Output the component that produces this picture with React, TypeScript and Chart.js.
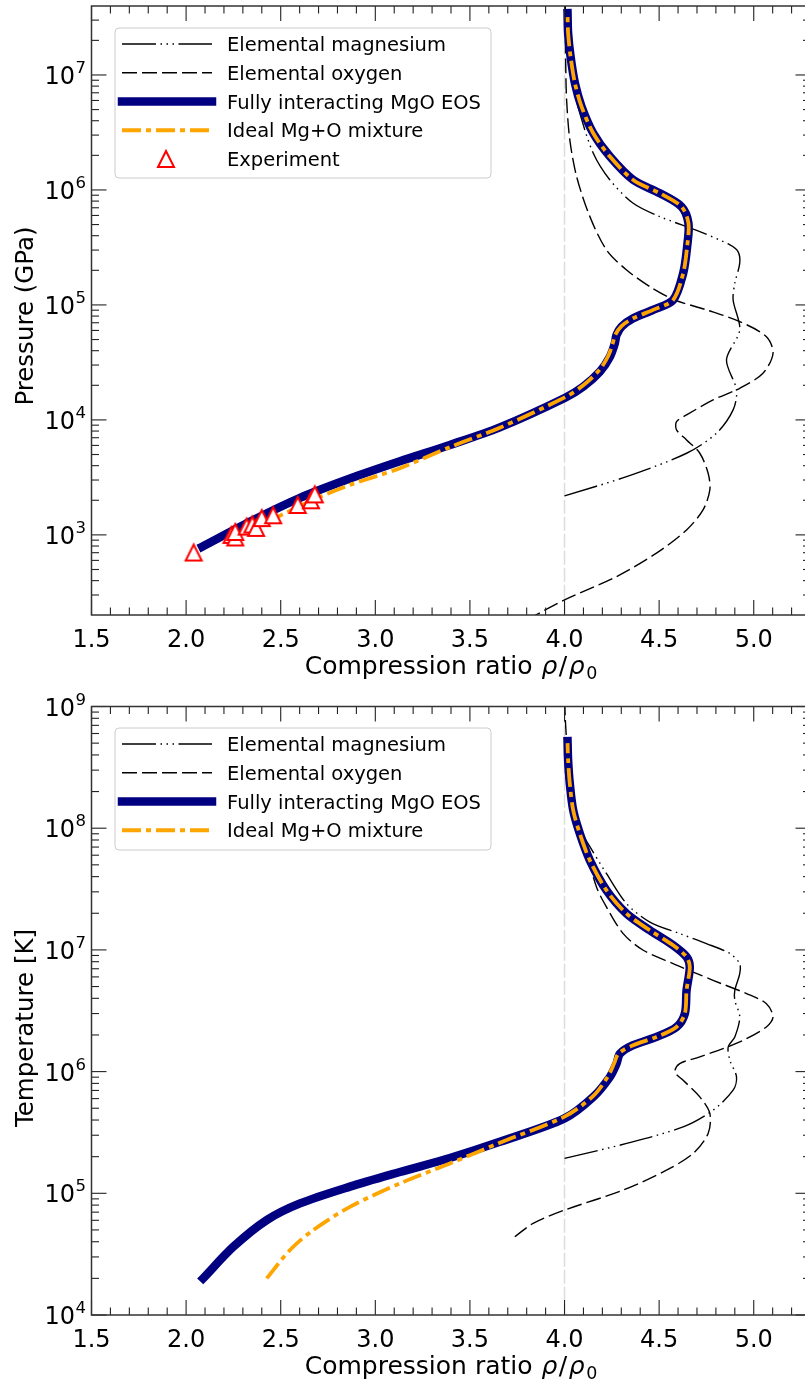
import React, { useEffect, useRef } from 'react';
import { Chart, registerables } from 'chart.js';

Chart.register(...registerables);

// ---------------- Axis ticks ----------------
const xTickVals = [1.5, 2.0, 2.5, 3.0, 3.5, 4.0, 4.5, 5.0];
const xTickLabels = ['1.5', '2.0', '2.5', '3.0', '3.5', '4.0', '4.5', '5.0'];
const yExpTop = [3, 4, 5, 6, 7];
const yExpBottom = [4, 5, 6, 7, 8, 9];

const xTitleMain = 'Compression ratio ';
const yTitleTop = 'Pressure (GPa)';
const yTitleBottom = 'Temperature [K]';

const seriesNames = [
  'Elemental magnesium',
  'Elemental oxygen',
  'Fully interacting MgO EOS',
  'Ideal Mg+O mixture',
  'Experiment',
];

// ---------------- Top panel: pressure (GPa) ----------------
const mgoRhoP = [2.085, 2.339, 2.602, 2.866, 3.13, 3.394, 3.658, 4.001, 4.099, 4.187, 4.24, 4.266, 4.275, 4.301, 4.363, 4.468, 4.574, 4.627, 4.648, 4.655, 4.618, 4.504, 4.363, 4.24, 4.152, 4.09, 4.055, 4.032, 4.019, 4.016];
const mgoP = [790, 1306, 2099, 3090, 4365, 6053, 8610, 15520, 19500, 26300, 35480, 46450, 54830, 64710, 76560, 90570, 110400, 188400, 321400, 512900, 716100, 935400, 1.222e6, 1.95e6, 3.112e6, 5.309e6, 8.472e6, 1.442e7, 2.301e7, 3.45e7];

const idealRhoP = [2.42, 2.505, 2.69, 2.866, 3.13, 3.394, 3.658, 4.001, 4.099, 4.187, 4.232, 4.255, 4.268, 4.301, 4.363, 4.468, 4.574, 4.627, 4.648, 4.655, 4.618, 4.504, 4.363, 4.24, 4.152, 4.09, 4.055, 4.032, 4.019, 4.016];
const idealP = [1290, 1493, 2084, 2723, 3802, 5800, 8550, 15700, 20000, 27500, 36300, 46450, 54830, 65500, 76560, 90570, 110400, 188400, 321400, 512900, 716100, 935400, 1.222e6, 1.95e6, 3.112e6, 5.309e6, 8.472e6, 1.442e7, 2.301e7, 3.3e7];

const mgRhoP = [4.0, 4.328, 4.645, 4.803, 4.891, 4.909, 4.856, 4.926, 4.891, 4.9, 4.926, 4.917, 4.874, 4.715, 4.504, 4.363, 4.24, 4.152, 4.081, 4.037, 4.019, 4.012];
const mgP = [2183, 3214, 5129, 7656, 12220, 18240, 33270, 60670, 110400, 154500, 230700, 291100, 332700, 434500, 586100, 765600, 1.222e6, 2.084e6, 4.645e6, 9.057e6, 1.442e7, 2.6e7];

const oRhoP = [3.8, 4.0, 4.275, 4.486, 4.645, 4.732, 4.768, 4.759, 4.715, 4.645, 4.592, 4.592, 4.645, 4.785, 4.926, 5.049, 5.102, 5.067, 4.926, 4.75, 4.583, 4.451, 4.328, 4.222, 4.134, 4.064, 4.028, 4.011, 4.006, 4.004];
const oP = [182, 272, 434, 693, 1104, 1648, 2460, 3436, 5129, 6699, 8185, 9661, 11040, 14930, 18840, 25470, 38020, 52970, 71620, 90570, 110400, 144200, 201400, 300600, 586100, 1.306e6, 2.723e6, 6.067e6, 1.349e7, 3.98e7];

const expRho = [2.04, 2.24, 2.26, 2.26, 2.32, 2.35, 2.37, 2.4, 2.46, 2.59, 2.66, 2.68];
const expP = [702, 1000, 950, 1060, 1180, 1230, 1150, 1400, 1480, 1820, 2000, 2250];

// ---------------- Bottom panel: temperature (K) ----------------
const mgoRhoT = [2.09, 2.25, 2.426, 2.602, 2.866, 3.13, 3.394, 3.658, 4.0, 4.152, 4.24, 4.275, 4.293, 4.363, 4.486, 4.592, 4.636, 4.645, 4.662, 4.645, 4.574, 4.451, 4.328, 4.222, 4.134, 4.081, 4.046, 4.028, 4.019, 4.016];
const mgoT = [20000, 36390, 60260, 82600, 113500, 149600, 195000, 264900, 412100, 619400, 905700, 1.164e6, 1.406e6, 1.648e6, 1.928e6, 2.328e6, 3.0e6, 4.656e6, 7.244e6, 8.75e6, 1.091e7, 1.449e7, 1.986e7, 3.083e7, 5.445e7, 9.016e7, 1.4e8, 2.317e8, 3.606e8, 5.2e8];

const idealRhoT = [2.426, 2.549, 2.672, 2.866, 3.13, 3.394, 3.658, 4.0, 4.152, 4.228, 4.262, 4.285, 4.363, 4.486, 4.592, 4.636, 4.645, 4.662, 4.645, 4.574, 4.451, 4.328, 4.222, 4.134, 4.081, 4.046, 4.028, 4.019, 4.016];
const idealT = [20000, 34200, 49890, 77450, 120500, 175800, 260000, 426600, 631000, 905700, 1.164e6, 1.406e6, 1.648e6, 1.928e6, 2.328e6, 3.0e6, 4.656e6, 7.244e6, 8.75e6, 1.091e7, 1.449e7, 1.986e7, 3.083e7, 5.445e7, 9.016e7, 1.4e8, 2.317e8, 3.606e8, 5.0e8];

const mgRhoT = [4.0, 4.328, 4.627, 4.785, 4.891, 4.909, 4.874, 4.865, 4.9, 4.926, 4.9, 4.9, 4.926, 4.926, 4.874, 4.75, 4.609, 4.451, 4.328, 4.222, 4.125, 4.081, 4.04, 4.02];
const mgT = [193600, 257000, 351600, 482000, 703100, 905700, 1.242e6, 1.596e6, 1.928e6, 2.812e6, 3.855e6, 4.656e6, 6.383e6, 7.709e6, 9.333e6, 1.127e7, 1.361e7, 1.694e7, 2.399e7, 4.227e7, 7.447e7, 1e8, 2e8, 4e8];

const oRhoT = [3.737, 3.834, 4.0, 4.31, 4.539, 4.68, 4.759, 4.768, 4.715, 4.627, 4.583, 4.609, 4.715, 4.926, 5.067, 5.102, 5.067, 4.962, 4.785, 4.68, 4.574, 4.416, 4.31, 4.222, 4.169, 4.099, 4.05, 4.02, 4.004, 4.0];
const oT = [43950, 56620, 72780, 106200, 154900, 212800, 310500, 452900, 619400, 849200, 995400, 1.164e6, 1.321e6, 1.754e6, 2.328e6, 2.812e6, 3.614e6, 4.375e6, 5.623e6, 6.577e6, 7.709e6, 9.931e6, 1.361e7, 2.249e7, 3.289e7, 7.943e7, 1.585e8, 3.548e8, 7.943e8, 1.585e9];

// reference line at rho/rho0 = 4
const limitRho = [4.0, 4.0];
const limitTopP = [100, 1e8];
const limitBottomT = [5e3, 2e9];

const FONT = '"DejaVu Sans", "Liberation Sans", sans-serif';

function pts(xs: number[], ys: number[]) {
  return xs.map((x, i) => ({ x, y: ys[i] }));
}

function makeTriangle() {
  const c = document.createElement('canvas');
  c.width = 22;
  c.height = 22;
  const g = c.getContext('2d')!;
  g.beginPath();
  g.moveTo(11, 3);
  g.lineTo(3, 19);
  g.lineTo(19, 19);
  g.closePath();
  g.fillStyle = '#ffffff';
  g.fill();
  g.lineWidth = 2;
  g.strokeStyle = '#ff0000';
  g.lineJoin = 'miter';
  g.stroke();
  return c;
}

function lineDatasets(mgX: number[], mgY: number[], oX: number[], oY: number[], mgoX: number[], mgoY: number[], idX: number[], idY: number[], limY: number[]) {
  return [
    {
      label: seriesNames[0], data: pts(mgX, mgY), showLine: true, borderColor: '#000000', borderWidth: 1.4,
      borderDash: [34, 4.5, 1.5, 4.5, 1.5, 4.5, 1.5, 4.5], tension: 0.3, pointRadius: 0, order: 4, borderCapStyle: 'butt',
    },
    {
      label: seriesNames[1], data: pts(oX, oY), showLine: true, borderColor: '#000000', borderWidth: 1.4,
      borderDash: [15, 5], tension: 0.3, pointRadius: 0, order: 3, borderCapStyle: 'butt',
    },
    {
      label: seriesNames[2], data: pts(mgoX, mgoY), showLine: true, borderColor: '#000080', borderWidth: 8.5,
      tension: 0.3, pointRadius: 0, order: 2, borderCapStyle: 'square', borderJoinStyle: 'round',
    },
    {
      label: seriesNames[3], data: pts(idX, idY), showLine: true, borderColor: '#ffa500', borderWidth: 3.8,
      borderDash: [19, 5, 5, 5], tension: 0.3, pointRadius: 0, order: 1, borderCapStyle: 'butt',
    },
    {
      label: '', data: pts(limitRho, limY), showLine: true, borderColor: '#dcdcdc', borderWidth: 1.5,
      borderDash: [14, 3], tension: 0, pointRadius: 0, order: 9, borderCapStyle: 'butt',
    },
  ];
}

const framePlugin = {
  id: 'frame',
  afterDatasetsDraw(chart: any, _args: any, opts: any) {
    const { ctx, chartArea: a } = chart;
    const xs = chart.scales.x;
    const ys = chart.scales.y;
    ctx.save();
    const seg = (x1: number, y1: number, x2: number, y2: number) => {
      ctx.beginPath();
      ctx.moveTo(x1, y1);
      ctx.lineTo(x2, y2);
      ctx.stroke();
    };
    // ticks (inward, all four sides)
    ctx.setLineDash([]);
    ctx.strokeStyle = '#222222';
    ctx.lineWidth = 1.1;
    for (let i = 0; i <= 40; i++) {
      const v = 1.5 + i * 0.1;
      const px = xs.getPixelForValue(v);
      if (px > a.right + 0.5) break;
      const len = i % 5 === 0 ? 15 : 7.5;
      seg(px, a.bottom, px, a.bottom - len);
      seg(px, a.top, px, a.top + len);
    }
    const d0 = Math.floor(Math.log10(ys.min));
    const d1 = Math.ceil(Math.log10(ys.max));
    for (let d = d0; d <= d1; d++) {
      for (let k = 1; k <= 9; k++) {
        const v = k * Math.pow(10, d);
        if (v < ys.min * 0.999 || v > ys.max * 1.001) continue;
        const py = ys.getPixelForValue(v);
        const len = k === 1 ? 15 : 7.5;
        seg(a.left, py, a.left + len, py);
        seg(a.right, py, a.right - len, py);
      }
    }
    // spines
    ctx.strokeStyle = '#333333';
    ctx.lineWidth = 1.5;
    ctx.strokeRect(a.left, a.top, a.right - a.left, a.bottom - a.top);

    // x tick labels
    ctx.fillStyle = '#000000';
    ctx.font = `24px ${FONT}`;
    ctx.textAlign = 'center';
    ctx.textBaseline = 'alphabetic';
    xTickVals.forEach((v, i) => ctx.fillText(xTickLabels[i], xs.getPixelForValue(v), a.bottom + 32));

    // y tick labels 10^n
    (opts.yExps as number[]).forEach((e) => {
      const py = ys.getPixelForValue(Math.pow(10, e));
      ctx.font = `16.5px ${FONT}`;
      const ew = ctx.measureText(String(e)).width;
      ctx.font = `24px ${FONT}`;
      const bw = ctx.measureText('10').width;
      const right = a.left - 5.5;
      const x0 = right - ew - bw - 0.5;
      ctx.textAlign = 'left';
      ctx.fillText('10', x0, py + 9);
      ctx.font = `16.5px ${FONT}`;
      ctx.fillText(String(e), x0 + bw + 0.5, py - 2);
    });

    // x title with math part
    const parts = [
      { t: xTitleMain, f: `25px ${FONT}`, dy: 0, gap: 1 },
      { t: 'ρ', f: `italic 25px ${FONT}`, dy: 0, gap: 1.5 },
      { t: '/', f: `25px ${FONT}`, dy: 0, gap: 1.5 },
      { t: 'ρ', f: `italic 25px ${FONT}`, dy: 0, gap: 1.5 },
      { t: '0', f: `17.5px ${FONT}`, dy: 5, gap: 0 },
    ];
    let tw = 0;
    parts.forEach((p) => { ctx.font = p.f; tw += ctx.measureText(p.t).width + p.gap; });
    let cx = (a.left + a.right) / 2 - tw / 2;
    ctx.textAlign = 'left';
    parts.forEach((p) => {
      ctx.font = p.f;
      ctx.fillText(p.t, cx, a.bottom + 59 + p.dy);
      cx += ctx.measureText(p.t).width + p.gap;
    });

    // y title
    ctx.save();
    ctx.translate(33, opts.yTitleCenter);
    ctx.rotate(-Math.PI / 2);
    ctx.font = `24.5px ${FONT}`;
    ctx.textAlign = 'center';
    ctx.fillText(opts.yTitle, 0, 0);
    ctx.restore();

    // legend
    const lg = opts.legend;
    const bx = 115, by = lg.top, bw = 376, bh = lg.h, r = 4;
    ctx.beginPath();
    ctx.moveTo(bx + r, by);
    ctx.arcTo(bx + bw, by, bx + bw, by + bh, r);
    ctx.arcTo(bx + bw, by + bh, bx, by + bh, r);
    ctx.arcTo(bx, by + bh, bx, by, r);
    ctx.arcTo(bx, by, bx + bw, by, r);
    ctx.closePath();
    ctx.fillStyle = 'rgba(255,255,255,0.85)';
    ctx.fill();
    ctx.strokeStyle = '#cccccc';
    ctx.lineWidth = 1;
    ctx.stroke();
    (lg.rows as number[]).forEach((di, i) => {
      const ds = chart.data.datasets[di];
      const cy = by + 16 + i * 28.75;
      if (ds.showLine === false) {
        const img = ds.pointStyle;
        ctx.drawImage(img, 166 - img.width / 2, cy - img.height / 2);
      } else {
        ctx.beginPath();
        ctx.setLineDash(ds.borderDash || []);
        ctx.lineWidth = ds.borderWidth;
        ctx.strokeStyle = ds.borderColor;
        ctx.lineCap = ds.borderCapStyle || 'butt';
        ctx.moveTo(122, cy);
        ctx.lineTo(212, cy);
        ctx.stroke();
        ctx.setLineDash([]);
      }
      ctx.fillStyle = '#000000';
      ctx.font = `19.5px ${FONT}`;
      ctx.textAlign = 'left';
      ctx.fillText(ds.label, 227, cy + 7);
    });
    ctx.restore();
  },
};

function makeConfig(datasets: any[], yMin: number, yMax: number, padding: any, frame: any) {
  return {
    type: 'scatter',
    data: { datasets },
    options: {
      responsive: false,
      animation: false,
      devicePixelRatio: 1,
      layout: { padding, autoPadding: false },
      plugins: { legend: { display: false }, tooltip: { enabled: false }, frame },
      scales: {
        x: { type: 'linear', min: 1.5, max: 5.3, display: false },
        y: { type: 'logarithmic', min: yMin, max: yMax, display: false },
      },
    },
    plugins: [framePlugin],
  } as any;
}

const TOP_H = 686;
const BOT_H = 1387 - TOP_H;

export default function App() {
  const topRef = useRef<HTMLCanvasElement>(null);
  const botRef = useRef<HTMLCanvasElement>(null);

  useEffect(() => {
    const tri = makeTriangle();
    const topSets: any[] = lineDatasets(mgRhoP, mgP, oRhoP, oP, mgoRhoP, mgoP, idealRhoP, idealP, limitTopP);
    topSets.push({
      label: seriesNames[4], data: pts(expRho, expP), showLine: false, pointStyle: tri, pointRadius: 8, order: 0,
    });
    const botSets: any[] = lineDatasets(mgRhoT, mgT, oRhoT, oT, mgoRhoT, mgoT, idealRhoT, idealT, limitBottomT);

    const c1 = new Chart(
      topRef.current!,
      makeConfig(topSets, 201, 3.98e7, { left: 91.5, top: 6, right: 1.5, bottom: TOP_H - 615 }, {
        yExps: yExpTop, yTitle: yTitleTop, yTitleCenter: 316, legend: { top: 28, h: 150, rows: [0, 1, 2, 3, 5] },
      })
    );
    const c2 = new Chart(
      botRef.current!,
      makeConfig(botSets, 1e4, 1e9, { left: 91.5, top: 706.5 - TOP_H, right: 1.5, bottom: 1387 - 1315 }, {
        yExps: yExpBottom, yTitle: yTitleBottom, yTitleCenter: 1028 - TOP_H, legend: { top: 728 - TOP_H, h: 122, rows: [0, 1, 2, 3] },
      })
    );
    return () => {
      c1.destroy();
      c2.destroy();
    };
  }, []);

  return (
    <div style={{ position: 'absolute', left: 0, top: 0, width: 805, height: 1387, overflow: 'hidden', background: '#ffffff' }}>
      <canvas ref={topRef} width={812} height={TOP_H} style={{ position: 'absolute', left: 0, top: 0 }} />
      <canvas ref={botRef} width={812} height={BOT_H} style={{ position: 'absolute', left: 0, top: TOP_H }} />
    </div>
  );
}
